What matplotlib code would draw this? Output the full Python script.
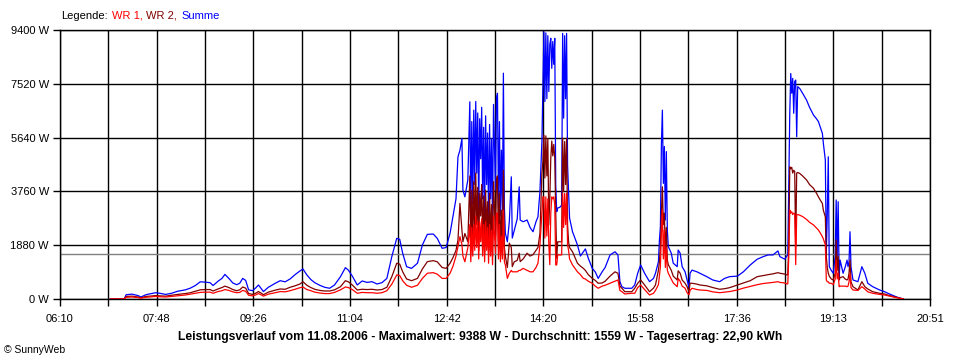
import matplotlib
matplotlib.use("Agg")
import matplotlib.pyplot as plt
import numpy as np

plt.rcParams["font.family"] = ["Liberation Sans", "DejaVu Sans"]

# Readings: time in minutes since midnight, power in W
minutes = [
    421, 435, 437, 443, 449, 452, 457, 461, 467, 471, 477, 483, 489, 497, 502, 507, 512, 517, 522, 525,
    530, 534, 537, 541, 545, 549, 552, 555, 558, 561, 565, 568, 571, 574, 576, 581, 588, 593, 598, 603,
    608, 613, 616, 620, 624, 628, 633, 638, 643, 648, 654, 659, 662, 666, 671, 676, 681, 686, 691, 696,
    701, 706, 711, 714, 717, 721, 726, 732, 737, 742, 748, 752, 757, 761, 765, 768, 771, 773, 775, 777,
    778, 780, 783, 785, 786, 787, 788, 789, 790, 791, 792, 793, 794, 795, 796, 797, 798, 799, 800, 801,
    802, 803, 804, 805, 806, 807, 808, 809, 811, 812, 813, 814, 815, 816, 817, 818, 819, 820, 821, 823,
    825, 827, 828, 830, 833, 835, 836, 839, 843, 846, 849, 852, 854, 856, 858, 859, 860, 861, 862, 863,
    864, 865, 866, 867, 868, 869, 870, 871, 872, 873, 874, 876, 878, 879, 880, 881, 882, 883, 884, 885,
    886, 889, 894, 897, 900, 902, 905, 909, 912, 915, 919, 922, 927, 932, 935, 937, 939, 942, 949, 952,
    955, 958, 962, 967, 971, 973, 976, 977, 978, 979, 980, 981, 982, 983, 984, 985, 986, 989, 991, 995,
    996, 998, 1000, 1003, 1005, 1007, 1008, 1010, 1015, 1018, 1025, 1031, 1038, 1043, 1048, 1056, 1062, 1069, 1076, 1082,
    1087, 1092, 1097, 1099, 1104, 1106, 1107, 1108, 1109, 1110, 1111, 1112, 1113, 1114, 1115, 1116, 1117, 1119, 1122, 1126,
    1129, 1133, 1136, 1138, 1140, 1142, 1143, 1145, 1146, 1147, 1148, 1149, 1151, 1153, 1155, 1156, 1157, 1158, 1159, 1160,
    1163, 1165, 1167, 1168, 1169, 1170, 1171, 1173, 1178, 1182, 1185, 1188, 1193, 1200, 1205, 1210, 1218, 1224,
]

summe = [
    0, 0, 150, 170, 120, 70, 150, 180, 220, 200, 160, 200, 270, 320, 380, 470, 600, 590, 570, 470,
    620, 720, 860, 720, 560, 500, 550, 720, 650, 320, 290, 380, 490, 350, 260, 410, 550, 640, 600, 700,
    850, 980, 1050, 840, 680, 570, 480, 410, 375, 490, 780, 1095, 1010, 800, 490, 630, 580, 605, 525, 570,
    720, 1480, 2120, 2085, 1600, 1130, 1070, 1250, 1890, 2260, 2270, 2120, 1770, 1800, 2300, 2900, 3500, 4970, 5200, 5610,
    3810, 3570, 4160, 6890, 3000, 6200, 3300, 6600, 4000, 6900, 4400, 6500, 3100, 6300, 4900, 6700, 3500, 6000, 2900, 6400,
    4000, 5800, 2800, 6100, 3500, 5600, 2700, 6800, 3800, 7000, 7190, 3200, 6200, 2900, 5200, 3100, 7890, 3200, 2300, 2000,
    2700, 4270, 2130, 2400, 2800, 3920, 2760, 2700, 2760, 2500, 2350, 2700, 2870, 3750, 5500, 7420, 9340, 6900, 9300, 7000,
    9200, 7250, 8900, 9110, 8060, 9000, 8200, 9110, 3980, 3050, 3180, 3200, 3280, 9280, 6320, 9200, 7000, 9280, 4680, 3750,
    2830, 2350, 1890, 1500, 1650, 1750, 1420, 1070, 950, 720, 950, 1100, 1540, 1650, 1540, 605, 430, 375, 375, 490,
    900, 1190, 900, 605, 720, 900, 1300, 2060, 2530, 5380, 6600, 4040, 5330, 2760, 5150, 2410, 1830, 1600, 1250, 1130,
    1710, 1600, 1130, 950, 665, 400, 900, 1010, 950, 900, 780, 665, 605, 720, 780, 800, 950, 1190, 1390, 1480,
    1540, 1540, 1680, 1480, 1390, 1500, 1540, 4040, 6500, 7880, 7190, 7710, 6490, 7600, 7650, 5670, 7420, 7360, 7190, 6950,
    6700, 6430, 6300, 6200, 6000, 5790, 5440, 4860, 1600, 3000, 4970, 1130, 1000, 900, 1500, 3460, 1500, 3400, 780, 1360,
    900, 1100, 1360, 1130, 1300, 2350, 1130, 665, 605, 1130, 900, 550, 430, 315, 255, 175, 60, 0,
]

wr2 = [
    0, 0, 90, 100, 70, 40, 90, 100, 120, 110, 100, 130, 160, 190, 220, 270, 320, 330, 330, 280,
    350, 400, 450, 400, 330, 290, 320, 420, 380, 190, 160, 200, 260, 200, 150, 240, 310, 350, 340, 410,
    460, 525, 605, 480, 400, 340, 300, 280, 280, 320, 430, 640, 600, 490, 315, 340, 330, 340, 315, 330,
    410, 780, 1250, 1220, 950, 700, 640, 720, 1050, 1305, 1340, 1300, 1100, 1070, 1250, 1450, 1700, 2060, 3340, 2410,
    2000, 2290, 2000, 4300, 1600, 3800, 1900, 4100, 2300, 4400, 2600, 3900, 1700, 3700, 2900, 4000, 2000, 3600, 1600, 3800,
    2300, 3400, 1550, 3700, 2000, 3300, 1500, 4100, 2200, 4200, 4300, 1800, 3700, 1600, 3100, 1700, 4500, 1800, 1500, 1100,
    1950, 1800, 1130, 1300, 1350, 1600, 1305, 1400, 1600, 1500, 1550, 1700, 1800, 2290, 4390, 4800, 5730, 4230, 5700, 4300,
    5600, 2590, 3500, 4930, 5520, 5000, 5400, 4930, 3050, 1420, 2000, 2000, 2000, 5620, 3750, 5500, 4000, 5620, 2590, 2000,
    1800, 1650, 1250, 1150, 1070, 1000, 850, 720, 650, 550, 560, 620, 800, 950, 900, 450, 375, 255, 255, 375,
    550, 665, 490, 255, 380, 490, 1010, 1300, 1800, 3000, 3920, 2600, 3000, 1600, 2500, 1360, 1200, 1000, 800, 665,
    985, 900, 665, 550, 430, 250, 550, 550, 520, 490, 460, 400, 340, 360, 395, 490, 560, 640, 780, 820,
    850, 880, 920, 900, 870, 840, 850, 2000, 4620, 4550, 4600, 4400, 4500, 4450, 1830, 4400, 4420, 4390, 4300, 4160,
    4000, 3870, 3700, 3570, 3450, 3340, 3100, 2870, 1480, 1100, 900, 800, 700, 665, 900, 2060, 1000, 1500, 665, 750,
    780, 700, 665, 700, 900, 1360, 600, 430, 315, 605, 430, 350, 255, 200, 175, 120, 50, 0,
]

wr1 = [
    0, 0, 60, 70, 50, 30, 60, 70, 90, 80, 70, 90, 110, 140, 170, 200, 230, 240, 240, 200,
    260, 290, 330, 300, 250, 220, 230, 300, 270, 130, 110, 140, 190, 140, 100, 170, 220, 260, 250, 290,
    340, 395, 420, 330, 290, 240, 210, 190, 190, 230, 320, 420, 400, 330, 200, 230, 220, 220, 200, 220,
    290, 520, 840, 820, 640, 480, 410, 480, 720, 900, 920, 870, 720, 720, 900, 1150, 1500, 1830, 2180, 1900,
    1500, 1300, 1800, 2600, 1300, 2500, 1500, 2600, 1700, 2900, 1800, 2700, 1400, 2700, 2000, 2800, 1500, 2600, 1300, 2700,
    1700, 2500, 1250, 2600, 1500, 2400, 1200, 2900, 1600, 3000, 3000, 1400, 2600, 1300, 2200, 1400, 3100, 1300, 1190, 720,
    900, 1000, 950, 950, 950, 1000, 1000, 1070, 1000, 950, 950, 1100, 1250, 1890, 3000, 3570, 3570, 2130, 3570, 2200,
    3500, 1890, 1200, 3000, 3570, 3500, 3570, 3300, 1190, 1190, 1540, 1540, 1540, 3690, 2500, 3690, 2600, 3690, 1890, 1700,
    1400, 1190, 950, 850, 720, 700, 620, 550, 450, 375, 450, 480, 550, 620, 665, 300, 255, 175, 200, 200,
    400, 490, 330, 140, 200, 300, 500, 800, 1130, 2300, 3110, 1400, 2410, 1100, 1800, 1010, 900, 700, 560, 430,
    720, 620, 450, 375, 220, 150, 300, 375, 330, 315, 300, 250, 220, 240, 260, 315, 380, 440, 500, 540,
    560, 580, 605, 580, 560, 525, 530, 1500, 3110, 3000, 3050, 2950, 3000, 2980, 1200, 2950, 2950, 2930, 2880, 2780,
    2680, 2590, 2480, 2410, 2300, 2180, 2100, 1900, 665, 600, 600, 550, 550, 500, 700, 1360, 700, 900, 430, 450,
    450, 450, 430, 450, 600, 900, 400, 315, 300, 430, 350, 250, 200, 160, 140, 100, 40, 0,
]

average = 1559
y_ticks = [0, 1880, 3760, 5640, 7520, 9400]
time_labels = ["06:10", "07:48", "09:26", "11:04", "12:42",
               "14:20", "15:58", "17:36", "19:13", "20:51"]
day_start, day_end = 370, 1251   # 06:10 .. 20:51

title = ("Leistungsverlauf vom 11.08.2006 - Maximalwert: 9388 W - "
         "Durchschnitt: 1559 W - Tagesertrag: 22,90 kWh")

RED, DARKRED, BLUE = "#ff0000", "#800000", "#0000ff"

fig = plt.figure(figsize=(9.6, 3.6), dpi=100)
ax = fig.add_axes([60 / 960, 61 / 360, 870 / 960, 269 / 360])

ax.plot(minutes, summe, color=BLUE, lw=0.9, zorder=3)
ax.plot(minutes, wr2, color=DARKRED, lw=0.9, zorder=4)
ax.plot(minutes, wr1, color=RED, lw=0.9, zorder=5)
ax.axhline(average, color="#808080", lw=1.0, zorder=2)

ax.set_xlim(day_start, day_end)
ax.set_ylim(0, 9400)
major = np.linspace(day_start, day_end, len(time_labels))
minor = np.linspace(day_start, day_end, 2 * len(time_labels) - 1)
ax.set_xticks(major)
ax.set_xticklabels(time_labels)
ax.set_xticks(minor, minor=True)
ax.set_yticks(y_ticks)
ax.set_yticklabels([f"{v} W" for v in y_ticks])

ax.set_axisbelow(True)
ax.grid(True, which="both", axis="x", color="black", lw=1.0)
ax.grid(True, which="major", axis="y", color="black", lw=1.0)
ax.tick_params(which="both", direction="out", length=5, width=1.0,
               colors="black", labelsize=8)
ax.tick_params(axis="x", pad=6)
ax.tick_params(axis="y", pad=3)
for s in ax.spines.values():
    s.set_linewidth(1.0)

# legend line at the top, one colour per word
fig.canvas.draw()
renderer = fig.canvas.get_renderer()
legend_y = 1 - 16 / 360
lab = fig.text(61 / 960, legend_y, "Legende:", fontsize=8, va="center")
x0 = lab.get_window_extent(renderer).x1
for label, col in [("WR 1,", RED), ("WR 2,", DARKRED), ("Summe", BLUE)]:
    t = fig.text((x0 + 4) / 960, legend_y, label, fontsize=8, color=col, va="center")
    x0 = t.get_window_extent(renderer).x1

fig.text(480 / 960, 1 - 337 / 360, title, fontsize=8.7, fontweight="bold",
         ha="center", va="center")
fig.text(4 / 960, 1 - 350 / 360, "\u00a9 SunnyWeb", fontsize=7.5, va="center")

fig.savefig("out.png", dpi=100)
